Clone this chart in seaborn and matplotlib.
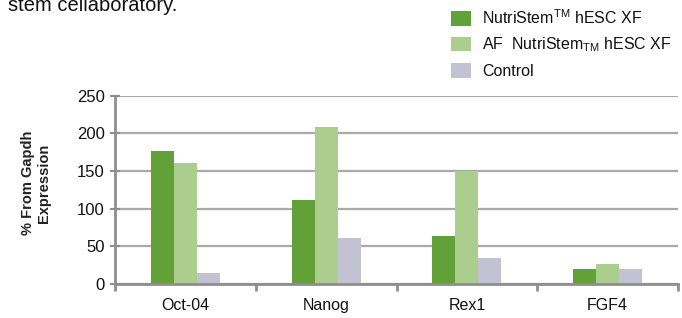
import pandas as pd
import seaborn as sns
import matplotlib.pyplot as plt

# values
genes = ['Oct-04', 'Nanog', 'Rex1', 'FGF4']
series = ['NutriStem$^{\\mathrm{TM}}$ hESC XF',
          'AF  NutriStem$_{\\mathrm{TM}}$ hESC XF',
          'Control']
nutristem = [176, 112, 64, 20]
af_nutristem = [161, 208, 150, 27]
control = [14, 61, 34, 20]
yticks = [0, 50, 100, 150, 200, 250]

colors = ['#62a137', '#abcd8d', '#c2c2d2']

df = pd.DataFrame({'gene': genes * 3,
                   'system': [series[0]] * 4 + [series[1]] * 4 + [series[2]] * 4,
                   'value': nutristem + af_nutristem + control})

sns.set_style("white")
plt.rcParams['font.family'] = ['Liberation Sans', 'DejaVu Sans']
plt.rcParams['mathtext.fontset'] = 'custom'
plt.rcParams['mathtext.rm'] = 'Liberation Sans'
plt.rcParams['mathtext.it'] = 'Liberation Sans'

fig = plt.figure(figsize=(6.82, 3.18), dpi=100)
ax = fig.add_axes([115 / 682, 34 / 318, 563 / 682, 188.5 / 318])

sns.barplot(data=df, x='gene', y='value', hue='system', palette=colors,
            width=0.49, saturation=1, linewidth=0, ax=ax, legend=True)

ax.set_xlim(-0.5, 3.5)
ax.set_ylim(0, 250)
ax.set_yticks(yticks)
ax.yaxis.grid(True, color='#a9a9a9', linewidth=1.6)
ax.set_axisbelow(True)
ax.set_xlabel('')
ax.set_ylabel('')

for s in ['top', 'right']:
    ax.spines[s].set_visible(False)
ax.spines['left'].set_color('#8e8e8e')
ax.spines['left'].set_linewidth(2)
ax.spines['bottom'].set_color('#8e8e8e')
ax.spines['bottom'].set_linewidth(2)

ax.tick_params(axis='y', direction='inout', length=7, width=1.5, color='#8e8e8e',
               labelsize=12, pad=4, left=True, labelcolor='#111111')
ax.tick_params(axis='x', which='major', length=0, labelsize=11.5, pad=10,
               labelcolor='#111111')
ax.set_xticks([-0.5, 0.5, 1.5, 2.5, 3.5], minor=True)
ax.tick_params(axis='x', which='minor', direction='out', length=5, width=2,
               color='#8e8e8e', bottom=True)

# legend in the top right corner
h, l = ax.get_legend_handles_labels()
ax.get_legend().remove()
fig.legend(h, l, loc='upper left', bbox_to_anchor=(451 / 682, 1 - 8 / 318),
           frameon=False, fontsize=11.5, handlelength=1.25, handleheight=1.05,
           handletextpad=0.7, labelspacing=0.55, borderpad=0, borderaxespad=0,
           labelcolor='#111111')

fig.text(36 / 682, 1 - 183 / 318, '% From Gapdh\nExpression', rotation=90,
         ha='center', va='center', fontsize=10.5, fontweight='bold',
         color='#222222', linespacing=1.25)

# cut-off line of text from the page above the chart
fig.text(8 / 682, 1 - 11 / 318, 'stem cellaboratory.', ha='left', va='baseline',
         fontsize=14.5, color='#111111')

fig.savefig('out.png', dpi=100)
